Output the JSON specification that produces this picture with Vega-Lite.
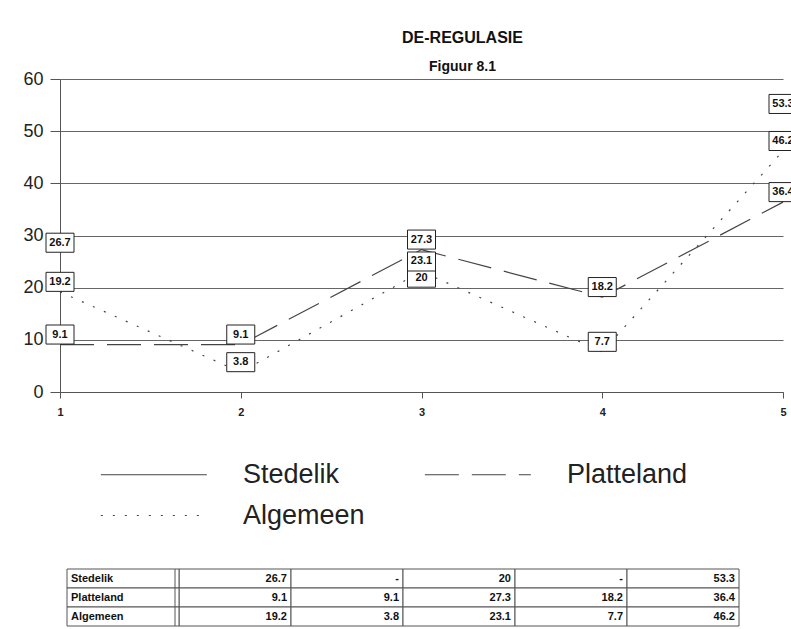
{
  "$schema": "https://vega.github.io/schema/vega-lite/v6.json",
  "background": "white",
  "padding": {"left": 22, "top": 30, "right": 0, "bottom": 0},
  "autosize": {"type": "pad"},
  "bounds": "flush",
  "spacing": 177,
  "config": {
    "font": "Liberation Sans",
    "view": {"stroke": null}
  },
  "datasets": {
    "d": [
      {"series": "Stedelik", "x": 1, "value": 26.7},
      {"series": "Stedelik", "x": 2, "value": null},
      {"series": "Stedelik", "x": 3, "value": 20},
      {"series": "Stedelik", "x": 4, "value": null},
      {"series": "Stedelik", "x": 5, "value": 53.3},
      {"series": "Platteland", "x": 1, "value": 9.1},
      {"series": "Platteland", "x": 2, "value": 9.1},
      {"series": "Platteland", "x": 3, "value": 27.3},
      {"series": "Platteland", "x": 4, "value": 18.2},
      {"series": "Platteland", "x": 5, "value": 36.4},
      {"series": "Algemeen", "x": 1, "value": 19.2},
      {"series": "Algemeen", "x": 2, "value": 3.8},
      {"series": "Algemeen", "x": 3, "value": 23.1},
      {"series": "Algemeen", "x": 4, "value": 7.7},
      {"series": "Algemeen", "x": 5, "value": 46.2}
    ]
  },
  "resolve": {
    "scale": {"x": "independent", "y": "independent", "strokeDash": "independent"},
    "legend": {"strokeDash": "independent"}
  },
  "vconcat": [
    {
      "width": 723,
      "height": 313,
      "data": {"name": "d"},
      "title": {
        "text": "DE-REGULASIE",
        "subtitle": "Figuur 8.1",
        "anchor": "middle",
        "dx": 41,
        "fontSize": 16,
        "fontWeight": "bold",
        "color": "#111",
        "subtitleFontSize": 14,
        "subtitleFontWeight": "bold",
        "subtitleColor": "#111",
        "subtitlePadding": 14,
        "offset": -4
      },
      "encoding": {
        "x": {
          "field": "x", "type": "quantitative",
          "scale": {"domain": [1, 5], "nice": false, "zero": false},
          "axis": {
            "values": [1, 2, 3, 4, 5], "format": "d", "title": null, "grid": false,
            "labelFontSize": 11, "labelFontWeight": "bold", "labelColor": "#222",
            "labelFlush": false, "tickSize": 6, "labelPadding": 8,
            "domainColor": "#555", "tickColor": "#555"
          }
        },
        "y": {
          "field": "value", "type": "quantitative",
          "scale": {"domain": [0, 60], "nice": false},
          "axis": {
            "values": [0, 10, 20, 30, 40, 50, 60], "title": null, "grid": true,
            "gridColor": "#666", "gridOpacity": 1, "labelFontSize": 18, "labelColor": "#222",
            "tickSize": 10, "labelPadding": 7, "domainColor": "#555", "tickColor": "#555"
          }
        }
      },
      "layer": [
        {
          "transform": [{"filter": "datum.series !== 'Stedelik'"}],
          "mark": {"type": "line", "color": "#444", "strokeWidth": 1.2},
          "encoding": {
            "strokeDash": {
              "field": "series", "type": "nominal",
              "scale": {"domain": ["Stedelik", "Platteland", "Algemeen"], "range": [[1, 0], [34, 13], [2, 10]]},
              "legend": {
                "title": null, "orient": "bottom", "direction": "horizontal", "columns": 2,
                "symbolType": "M-1,0L5,0", "symbolSize": 1248, "symbolStrokeWidth": 1.2,
                "symbolStrokeColor": "#444", "symbolFillColor": "transparent",
                "labelFontSize": 27, "labelColor": "#222",
                "labelOffset": 106, "columnPadding": 57, "rowPadding": 9,
                "padding": 40, "offset": -1,
                "labelLimit": 400
              }
            }
          }
        },
        {
          "transform": [{"filter": "datum.value !== null"}],
          "mark": {
            "type": "point", "shape": "M-1,-0.68L1,-0.68L1,0.68L-1,0.68Z", "size": 784,
            "filled": true, "fill": "white", "stroke": "#222", "strokeWidth": 1, "opacity": 1,
            "yOffset": -10
          }
        },
        {
          "transform": [{"filter": "datum.value !== null"}],
          "mark": {"type": "text", "fontSize": 11, "fontWeight": "bold", "color": "#111", "baseline": "middle", "yOffset": -10},
          "encoding": {"text": {"field": "value", "type": "nominal"}}
        }
      ]
    },
    {
      "width": 686,
      "height": 57,
      "data": {"name": "d"},
      "layer": [
        {
          "mark": {"type": "rect", "fill": "white", "stroke": "#555", "strokeWidth": 1},
          "encoding": {
            "x": {"field": "x", "type": "ordinal", "scale": {"domain": [0, 1, 2, 3, 4, 5], "paddingInner": 0, "paddingOuter": 0.0625}, "axis": null},
            "y": {"field": "series", "type": "nominal", "scale": {"domain": ["Stedelik", "Platteland", "Algemeen"], "paddingInner": 0, "paddingOuter": 0}, "axis": null}
          }
        },
        {
          "transform": [{"filter": "datum.x === 1"}],
          "mark": {"type": "rect", "fill": "white", "stroke": "#555", "strokeWidth": 1},
          "encoding": {
            "x": {"datum": 0, "type": "ordinal"},
            "y": {"field": "series", "type": "nominal"}
          }
        },
        {
          "transform": [{"filter": "datum.x === 1 && datum.series === 'Stedelik'"}],
          "mark": {"type": "rule", "color": "#555", "strokeWidth": 1, "xOffset": -4},
          "encoding": {"x": {"datum": 1, "type": "ordinal", "bandPosition": 0}}
        },
        {
          "mark": {"type": "text", "fontSize": 11, "fontWeight": "bold", "color": "#111", "align": "right", "baseline": "middle", "dx": -4},
          "encoding": {
            "x": {"field": "x", "type": "ordinal", "bandPosition": 1},
            "y": {"field": "series", "type": "nominal"},
            "text": {"condition": {"test": "datum.value === null", "value": "-"}, "field": "value", "type": "nominal"}
          }
        },
        {
          "transform": [{"filter": "datum.x === 1"}],
          "mark": {"type": "text", "fontSize": 11, "fontWeight": "bold", "color": "#111", "align": "left", "baseline": "middle", "dx": 4},
          "encoding": {
            "x": {"datum": 0, "type": "ordinal", "bandPosition": 0},
            "y": {"field": "series", "type": "nominal"},
            "text": {"field": "series", "type": "nominal"}
          }
        }
      ]
    }
  ]
}
